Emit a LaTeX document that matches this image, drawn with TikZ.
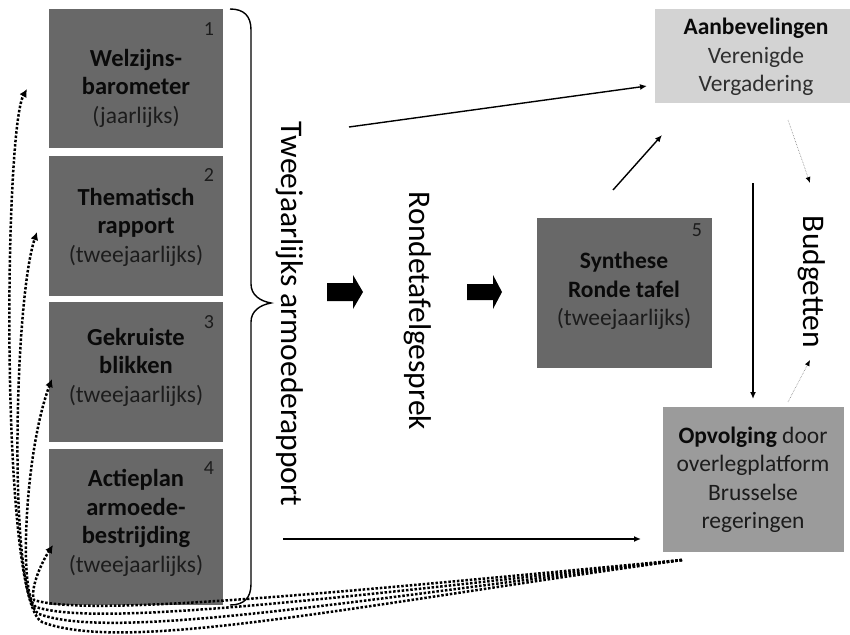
\documentclass[tikz,border=0pt]{standalone}
\usepackage{fontspec}
\setmainfont{Carlito}
\usetikzlibrary{arrows.meta,calc}
\definecolor{boxdark}{HTML}{686868}
\definecolor{boxmid}{HTML}{9B9B9B}
\definecolor{boxlight}{HTML}{D3D3D3}
\definecolor{txtdark}{HTML}{0A0A0A}
\definecolor{txtsoft}{HTML}{1C1C1C}
\begin{document}
\begin{tikzpicture}[x=1pt,y=-1pt,
  darkbox/.style={fill=boxdark, draw=none, minimum width=174pt, inner sep=0pt},
  boxtext/.style={align=center, font=\fontsize{23.5}{28.5}\selectfont, text=txtsoft, inner sep=0pt},
  numlabel/.style={font=\fontsize{20}{22}\selectfont, text=txtsoft, inner sep=0pt},
  bigtext/.style={rotate=-90, font=\fontsize{31.5}{36}\selectfont, text=black, inner sep=0pt},
  flow/.style={line width=1.4pt, -{Latex[length=7pt,width=6pt]}},
  budgetarrow/.style={line width=0.6pt, color=gray, densely dotted, -{Latex[length=6pt,width=5pt,color=black]}},
  feedback/.style={line width=2.5pt, dash pattern=on 2.5pt off 1.8pt, -{Latex[length=8pt,width=8pt]}},
  blockarrow/.style={fill=black},
]
\newcommand{\bt}[1]{\textcolor{txtdark}{\fontsize{24.5}{28.5}\selectfont\textbf{#1}}}
\newcommand{\btr}[1]{\textcolor{txtdark}{\textbf{#1}}}
\useasboundingbox (0,0) rectangle (850,634);

% left column boxes
\node[darkbox, minimum height=139pt] (b1) at (136,78.5) {};
\node[darkbox, minimum height=140pt] (b2) at (136,226) {};
\node[darkbox, minimum height=140pt] (b3) at (136,372) {};
\node[darkbox, minimum height=156pt] (b4) at (136,527) {};

\node[boxtext] (b1t) at (136,88) {\bt{Welzijns-}\\\bt{barometer}\\(jaarlijks)};
\node[boxtext] (b2t) at (136,227) {\bt{Thematisch}\\\bt{rapport}\\(tweejaarlijks)};
\node[boxtext] (b3t) at (136,367) {\bt{Gekruiste}\\\bt{blikken}\\(tweejaarlijks)};
\node[boxtext] (b4t) at (136,523) {\bt{Actieplan}\\\bt{armoede-}\\\bt{bestrijding}\\(tweejaarlijks)};

\node[numlabel] (n1) at (209,29) {1};
\node[numlabel] (n2) at (209,175) {2};
\node[numlabel] (n3) at (209,322) {3};
\node[numlabel] (n4) at (209,468) {4};

% brace
\draw[line width=1.4pt] (230,9) .. controls (244,9) and (251,16) .. (251,30) -- (251,284)
  .. controls (251,295) and (260,301) .. (271,303)
  .. controls (260,305) and (251,311) .. (251,322) -- (251,584)
  .. controls (251,598) and (244,605) .. (230,605);

% rotated texts
\node[bigtext] (tw) at (290,314) {Tweejaarlijks armoederapport};
\node[bigtext] (rt) at (418,311) {Rondetafelgesprek};
\node[bigtext] (bu) at (812,282) {Budgetten};

% block arrows
\fill[blockarrow] (327,283) -- (353,283) -- (353,275) -- (363,292) -- (353,309) -- (353,301) -- (327,301) -- cycle;
\fill[blockarrow] (467,284) -- (493,284) -- (493,275) -- (502,292) -- (493,309) -- (493,300) -- (467,300) -- cycle;

% synthese box
\node[fill=boxdark, minimum width=175pt, minimum height=150pt, inner sep=0pt] (syn) at (624.5,293) {};
\node[boxtext] (synt) at (624,291) {\btr{Synthese}\\\btr{Ronde tafel}\\(tweejaarlijks)};
\node[numlabel] (n5) at (697,230) {5};

% aanbevelingen box
\node[fill=boxlight, minimum width=195pt, minimum height=94pt, inner sep=0pt] (aan) at (752.5,56) {};
\node[boxtext, text=txtdark!85!white] (aant) at (756,57) {\btr{Aanbevelingen}\\Verenigde\\Vergadering};

% opvolging box
\node[fill=boxmid, minimum width=181pt, minimum height=145pt, inner sep=0pt] (opv) at (753.5,479.5) {};
\node[boxtext] (opvt) at (753,480) {\btr{Opvolging} door\\overlegplatform\\Brusselse\\regeringen};

% connector end points
\coordinate (c1s) at (349,127);
\coordinate (c1e) at (647,86);
\coordinate (c2s) at (613,190);
\coordinate (c2e) at (662,135);
\coordinate (c3s) at (753,183);
\coordinate (c3e) at (753,399);
\coordinate (c4s) at (283,539);
\coordinate (c4e) at (641,539);
\coordinate (c5s) at (788,120);
\coordinate (c5e) at (810,183);
\coordinate (c6s) at (788,402);
\coordinate (c6e) at (810,360);

\draw[flow] (c1s) -- (c1e);
\draw[flow] (c2s) -- (c2e);
\draw[flow] (c3s) -- (c3e);
\draw[flow] (c4s) -- (c4e);
\draw[budgetarrow] (c5s) -- (c5e);
\draw[budgetarrow] (c6s) -- (c6e);

% feedback dotted arrows
\coordinate (fb) at (682,560);
\coordinate (t1) at (27,89);
\coordinate (t2) at (37,232);
\coordinate (t3) at (52,379);
\coordinate (t4) at (53,545);
\draw[feedback] (fb) .. controls (350,606) and (125,654) .. (42,622) .. controls (0,600) and (4,130) .. (t1);
\draw[feedback] (fb) .. controls (350,601) and (112,641) .. (39,614) .. controls (8,598) and (14,300) .. (t2);
\draw[feedback] (fb) .. controls (350,596) and (100,628) .. (36,607) .. controls (18,597) and (25,450) .. (t3);
\draw[feedback] (fb) .. controls (350,591) and (90,618) .. (34,600) .. controls (30,590) and (40,565) .. (t4);
\end{tikzpicture}
\end{document}
